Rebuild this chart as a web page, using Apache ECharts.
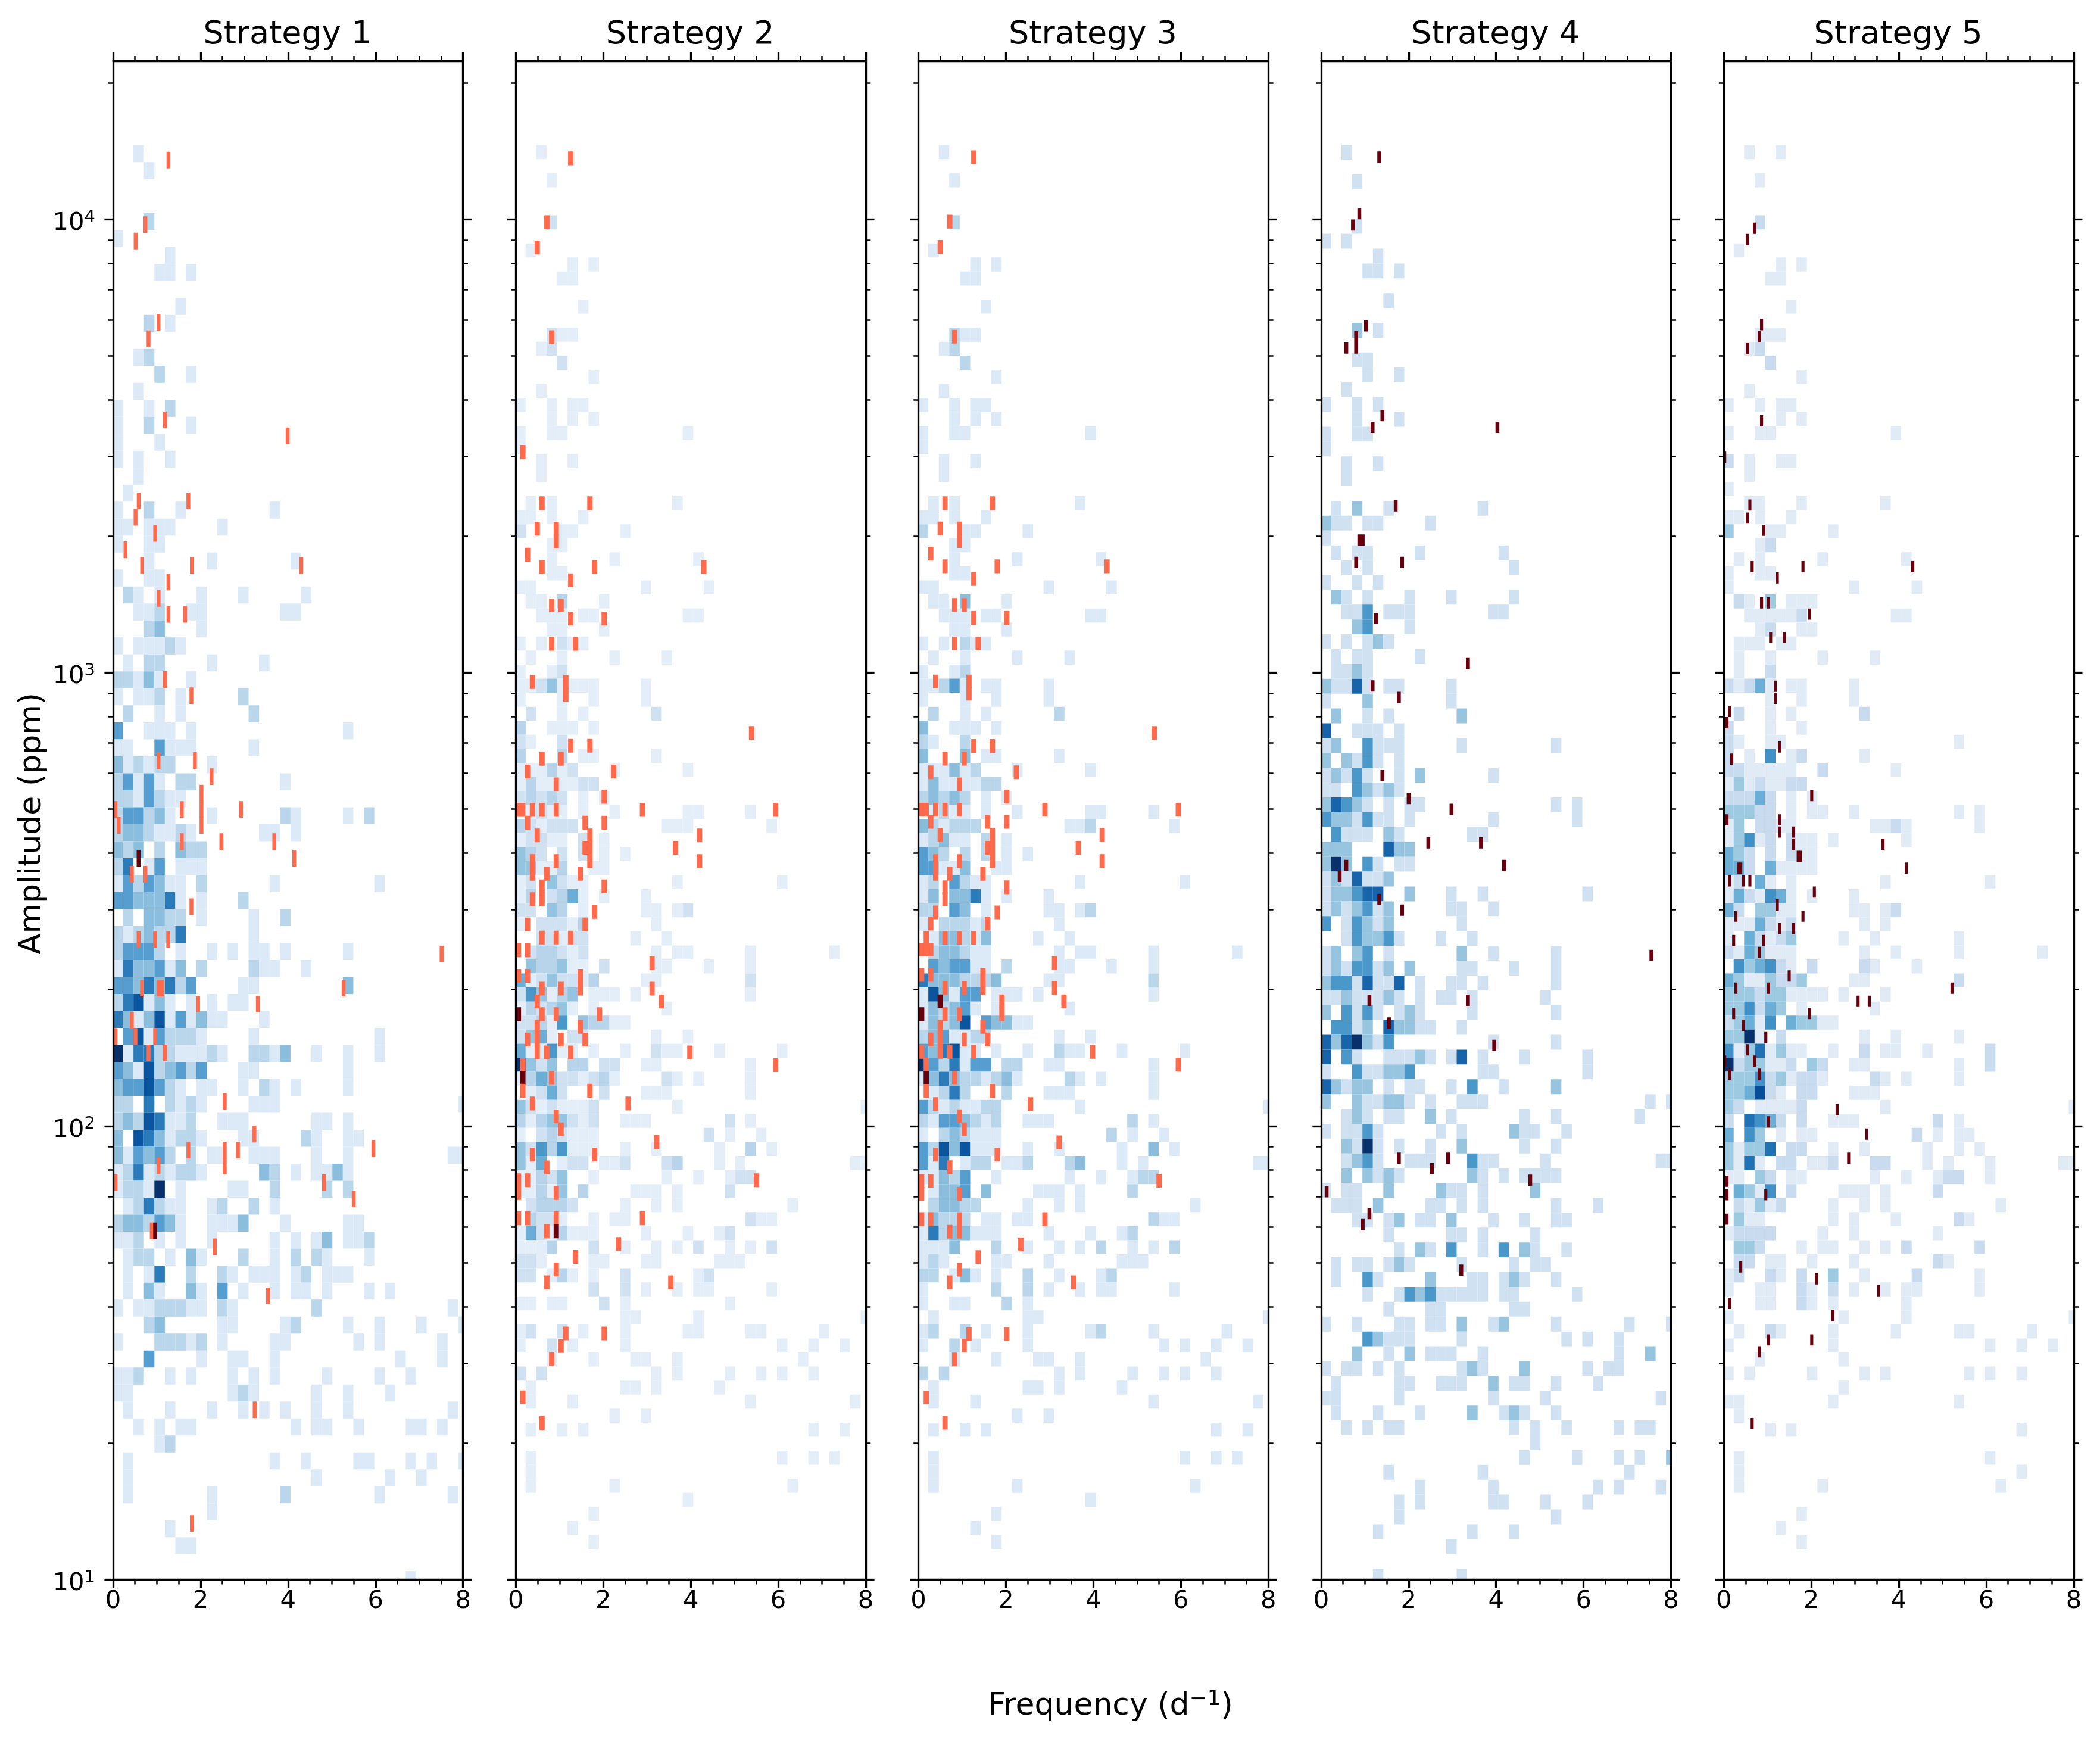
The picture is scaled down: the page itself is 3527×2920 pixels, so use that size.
<!DOCTYPE html>
<html><head><meta charset="utf-8">
<style>html,body{margin:0;padding:0;background:#fff}#c{width:3527px;height:2920px}</style>
<script src="https://cdn.jsdelivr.net/npm/echarts@6/dist/echarts.min.js"></script>
</head><body><div id="c"></div>
<script>
// Panel titles and axis text
const panelTitles = ["Strategy 1","Strategy 2","Strategy 3","Strategy 4","Strategy 5"];
const xTitleParts = ["Frequency (d","\u22121",")"];
const yTitle = "Amplitude (ppm)";
const xRange = [0, 8];
const yRange = [10, 22336];
const yMajor = [10,100,1000,10000];
const yMinor = [20,30,40,50,60,70,80,90,200,300,400,500,600,700,800,900,2000,3000,4000,5000,6000,7000,8000,9000,20000];

// 2D histogram bins: frequency bins, log10(amplitude) bins (row 0 is the top one)
const freqStart = -0.0144, freqStep = 0.2394;
const logTop  = [4.1634,4.1633,4.1633,4.1640,4.1633];
const logStep = [0.03744,0.03096,0.03096,0.03271,0.03096];

// Colour of each count level in each panel
const blues = [
 ['#fff','#dce9f6','#bad6ea','#8bbedc','#559ecf','#2b7bba','#0b559f','#08306b'],
 ['#fff','#e3eef8','#d0e1f2','#b7d4ea','#94c4df','#6aaed6','#4a98c9','#2474b7','#08306b'],
 ['#fff','#dce9f6','#bad6ea','#8bbedc','#559ecf','#2b7bba','#0b559f','#08306b'],
 ['#fff','#d0e1f2','#97c4df','#4a97c9','#1764ab','#08306b'],
 ['#fff','#e1ebf6','#c8dbef','#9dcae1','#6baed6','#4191c6','#2171b5','#084d97','#08306b']
];
const reds = [['#ff6a4d','#67000d'],['#ff6a4d','#67000d'],['#ff6a4d','#67000d'],['#67000d','#67000d'],['#67000d','#67000d']];
// Width (d^-1) and height (in rows) of the narrow strategy bins
const tickW = [0.088,0.12,0.12,0.088,0.07];
const tickH = [0.98,0.98,0.98,0.76,0.8];

// Background counts: [row, "column:level column:level ..."]
const heat1 = [
[0,"2:1"],[1,"3:1"],[4,"3:2"],[5,"0:1"],[6,"5:1"],[7,"4:1 5:1 7:1"],[9,"6:1"],[10,"3:2 5:1"],
[12,"2:1 3:2"],[13,"4:2 7:1"],[14,"2:1"],[15,"0:1 3:1 5:2"],[16,"0:1 3:2 7:1"],[17,"0:1 4:1"],[18,"0:1 2:1 5:1"],[19,"2:1"],[20,"1:1"],
[21,"0:1 3:2 6:1 15:1"],[22,"0:1 1:1 3:1 4:1 5:1 10:1"],[23,"0:1 3:1 4:1"],[24,"3:1 9:1 17:1"],[25,"0:1 3:1 4:1"],
[26,"1:2 2:1 4:1 8:1 12:1 18:1"],[27,"2:1 3:1 4:2 7:1 8:1 16:1 17:1"],[28,"3:2 4:3 8:1"],[29,"0:1 2:1 3:1 4:1 5:2 6:1"],
[30,"1:1 3:2 4:2 9:1 14:1"],[31,"0:2 1:2 2:1 3:3 4:1 7:1"],[32,"0:1 2:1 3:1 4:2 6:1 12:2"],[33,"1:2 4:1 6:1 13:2"],
[34,"0:4 3:1 4:1 5:1 7:1 22:1"],[35,"0:1 1:1 4:4 5:1 6:1 7:1 13:1"],[36,"0:3 1:1 2:2 3:1 4:2 5:2 9:1"],[37,"0:2 1:4 2:1 3:4 4:1 6:2 7:2 16:1"],
[38,"0:2 1:2 2:1 3:4 4:2 5:1 6:1"],[39,"0:2 1:4 2:4 3:2 4:3 5:1 9:1 16:2 17:1 22:1 24:2"],[40,"0:2 1:3 2:3 3:2 4:1 5:1 6:2 7:1 14:1 15:1 17:1"],
[41,"0:3 1:2 2:3 4:2 6:3 7:2 8:2"],[42,"0:2 1:5 3:1 4:4 6:1 7:1 8:1"],[43,"0:1 1:4 2:2 3:4 4:3 5:1 6:1 8:2 15:1 25:1"],
[44,"0:4 1:4 2:3 3:3 4:3 5:5 6:1 8:1 12:2"],[45,"1:2 3:3 4:3 5:2 6:2 8:1 13:1 16:2"],[46,"0:2 1:1 2:2 3:3 4:2 5:2 6:5 13:1"],
[47,"0:2 1:4 2:4 3:4 4:2 6:1 9:1 11:1 13:1 14:1 16:1 22:1"],[48,"0:1 1:5 2:3 3:3 4:4 5:1 6:3 8:2 13:2 14:1 15:1 18:1"],
[49,"0:4 1:4 2:3 3:5 4:3 5:5 6:2 7:4 12:1 13:1 22:3"],[50,"0:2 1:5 2:6 3:1 4:3 5:1 7:1 9:1 11:1 12:1"],
[51,"0:5 1:3 2:1 3:3 4:6 5:1 6:4 7:1 8:3 9:1 10:1 14:1"],[52,"1:4 2:6 3:1 4:4 5:2 6:2 7:2 8:1 13:1 25:1"],
[53,"0:7 1:1 2:5 3:5 4:2 5:2 6:1 7:1 8:1 9:2 10:1 13:2 14:2 15:1 16:3 19:1 22:1 25:1"],[54,"0:4 1:3 2:1 3:6 4:2 5:3 6:4 7:2 8:4 12:1 13:1 22:1"],
[55,"0:3 1:4 2:4 3:6 4:4 5:2 6:1 8:1 9:1 12:1 14:2 15:1 17:1 22:1"],[56,"0:2 1:2 3:5 5:2 6:1 7:2 8:1 13:1 14:1 15:1 33:1"],
[57,"0:2 1:3 2:2 3:6 4:5 5:1 6:1 7:2 10:1 11:1 12:1 19:1 20:1 22:1"],[58,"0:3 2:6 3:5 4:3 5:1 6:2 7:2 8:1 12:1 13:1 18:2 19:1 22:1 23:1"],
[59,"0:3 1:1 2:4 3:3 4:4 5:2 7:2 9:1 10:1 13:1 14:1 15:1 19:1 22:1 32:1 33:1"],[60,"0:1 1:2 2:5 3:1 4:2 5:1 6:2 7:2 8:1 14:3 15:2 17:1 19:1 20:1 21:3 22:1"],
[61,"0:1 1:2 2:2 3:1 4:7 6:1 11:1 12:1 15:2 20:2 22:2"],[62,"1:1 2:2 3:5 4:2 5:1 6:1 9:1 10:2 13:2 15:1"],
[63,"0:2 1:3 2:3 3:2 4:4 5:3 6:1 9:1 10:1 11:1 12:3 16:1 22:1 23:1"],[64,"0:1 1:1 2:2 4:1 6:1 9:1 15:1 17:1 19:1 20:3 22:1 23:1 24:2"],
[65,"1:1 2:2 3:2 5:1 7:3 8:1 12:2 15:1 17:2 19:2 20:1 24:1"],[66,"1:1 3:1 4:5 7:2 10:2 11:1 13:1 14:1 15:1 17:1 18:2 20:1 21:1 22:1"],
[67,"1:1 3:3 4:1 7:3 8:1 10:4 12:1 15:1 17:1 18:1 20:1 24:1 26:1"],[68,"0:1 2:1 3:1 4:2 5:2 6:2 7:1 8:1 10:2 11:1 19:2 32:1"],
[69,"3:2 4:3 10:1 11:1 16:1 17:2 22:1 25:1 29:1 33:1"],[70,"0:1 4:2 5:2 6:2 7:1 8:2 10:1 15:1 16:1 23:1 25:1 31:1"],
[71,"3:4 8:1 11:1 12:1 15:1 27:1 31:1"],[72,"0:1 1:1 2:2 5:1 7:1 11:1 13:1 15:1 20:1 25:1 28:1"],[73,"0:1 1:1 11:1 12:2 13:1 19:1 22:1 26:1"],
[74,"1:1 5:1 9:1 12:1 14:1 16:1 19:1 22:1 32:1"],[75,"2:1 4:1 6:1 7:1 17:1 19:1 20:1 23:1 28:1 29:1 31:1"],[76,"4:1 5:2"],
[77,"1:1 15:1 18:1 23:1 24:1 28:1 30:1 33:1"],[78,"1:1 19:1 26:1 29:1"],[79,"1:1 9:1 16:2 25:1 32:1"],[80,"9:1"],[81,"5:1"],[82,"6:1 7:1"],[84,"28:1"]
];
const heat2 = [
[0,"2:1"],[2,"3:1"],[5,"3:2"],[7,"1:1"],[8,"5:1 7:1"],[9,"4:1 5:1"],[11,"6:1"],[13,"3:2 4:1 5:1"],[14,"2:1 3:2"],[15,"4:2"],[16,"7:1"],[17,"2:1"],
[18,"0:1 3:1 5:1 6:1"],[19,"3:1 5:1 7:1"],[20,"0:1 3:1 4:1 16:1"],[21,"0:1"],[22,"2:1 5:1"],[23,"2:1"],[25,"1:1 3:1 15:1"],[26,"0:1 1:1 3:1 6:1"],
[27,"0:2 4:1 5:1 10:1"],[28,"3:1 4:1"],[29,"3:1 9:1 17:1"],[30,"3:1 4:1"],[31,"0:1 1:1 12:1 18:1"],[32,"1:1 2:1 4:3 8:1"],[33,"2:1 3:1 4:1 6:1 7:1 16:1 17:1"],
[34,"3:1 4:1 8:1"],[35,"0:1 2:1 4:2 5:1 6:1"],[36,"1:1 4:1 9:1 14:1"],[37,"0:1 3:1 4:2"],[38,"0:1 1:1 2:2 3:4 4:1 5:1 6:1 7:1 12:1"],[39,"0:1 4:1 7:1 12:1"],
[40,"1:2 4:1 6:1 13:2"],[41,"0:3 3:1 4:1 5:1 7:1"],[42,"0:2 1:1 4:2"],[43,"0:3 4:3 6:1 7:1 13:1"],[44,"0:1 1:1 2:1 3:3 4:1 5:2 9:1 16:1"],
[45,"0:1 1:3 2:1 3:1 4:1 5:1 6:2 7:2"],[46,"0:2 1:3 2:2 3:3 4:2 6:1 8:1"],[47,"1:1 2:2 3:1 4:1 6:1 9:1 16:1 17:1 22:1"],
[48,"0:3 1:2 2:1 3:2 4:2 5:2 14:1 15:1 16:1 24:1"],[49,"0:1 1:2 2:2 3:1 4:1 6:2 8:1"],[50,"0:4 1:3 2:2 4:2 6:2 8:1 10:1"],[51,"0:4 1:4 2:1 3:1 4:3 7:1 8:1"],
[52,"0:1 1:2 3:4 4:2 5:1 6:1 15:1 25:1"],[53,"0:1 1:3 3:2 4:3 5:5 6:1 8:1 12:1"],[54,"0:2 1:2 3:4 4:3 6:1 12:1 13:1 15:1 16:2"],[55,"0:1 2:2 3:2 4:2 5:1 6:3 13:1"],
[56,"2:2 3:2 4:1 5:2 6:2 11:1 14:1"],[57,"1:2 2:3 3:3 4:2 5:1 6:2 13:1 15:1 16:1 22:1 30:1"],[58,"1:4 2:3 3:3 4:4 5:1 6:1 8:2 13:1 14:1 18:1 22:1"],
[59,"0:5 1:1 2:2 3:4 4:2 5:2 6:1 7:3 12:1 13:1 22:2"],[60,"0:2 1:6 2:4 3:1 4:3 5:4 7:1 8:1 9:1 11:1 22:1"],[61,"0:1 1:3 2:2 3:3 4:4 5:1 7:1 14:1"],
[62,"0:2 1:2 2:3 3:1 4:6 6:4 7:3 8:3 9:1 10:1"],[63,"0:2 1:4 2:5 3:1 5:2 6:2 13:1 16:1"],[64,"0:5 1:1 2:1 3:6 4:1 5:1 7:1 10:1 13:2 14:1 15:1 19:1 25:1"],
[65,"0:8 1:4 2:2 3:4 5:3 6:3 8:2 9:2 12:1 13:1 22:1"],[66,"0:1 1:3 2:5 3:4 4:2 5:2 6:1 7:2 8:3 9:1 14:2 15:1 17:1 22:1"],[67,"1:1 2:2 3:5 4:2 8:2 12:1 13:1 14:1 22:1"],
[68,"0:4 1:2 2:1 3:2 4:1 5:1 6:1 7:2 15:1 33:1"],[69,"0:3 1:1 2:3 3:4 4:4 5:2 6:1 7:2 10:1 11:1 12:1 20:2 22:1"],[70,"0:1 2:2 3:3 4:2 5:1 6:1 7:1 18:2 20:1 23:1"],
[71,"0:4 1:2 2:6 3:3 4:6 5:1 6:1 7:1 10:1 13:1 19:1 22:3 24:1"],[72,"0:4 1:1 2:5 4:1 5:2 6:2 8:1 9:1 10:2 14:2 15:3 19:1 21:1 32:1 33:1"],
[73,"0:1 1:1 2:3 3:2 4:4 7:1 14:1 17:1 20:1 21:2 22:2"],[74,"0:1 1:1 2:3 3:1 4:4 6:3 11:1 12:1 13:1 15:1 20:2"],[75,"1:2 2:3 3:3 4:3 5:2 10:1 13:1 15:1 26:1"],
[76,"1:3 2:2 3:2 4:1 7:1 9:1 10:1 22:2 23:1 24:1"],[77,"0:1 1:5 2:2 3:1 4:3 5:1 6:1 7:1 12:1 16:1 19:1 20:2"],[78,"0:1 1:1 2:1 3:3 7:2 10:1 13:1 15:1 17:2 20:1 22:1 24:2"],
[79,"0:2 1:2 2:1 7:1 8:1 12:1 13:1 19:1 20:1 21:1"],[80,"0:2 1:2 3:1 4:3 5:1 7:1 10:2 17:1 18:2"],[81,"7:2 10:2 12:1 15:1 17:1 18:1 24:1"],[82,"0:1 1:1 3:1 4:1 8:2 10:1 20:1"],
[83,"10:1 11:1 17:1 33:1"],[84,"0:1 1:2 4:2 6:1 10:1 16:1 17:1 22:1 23:1 29:1"],[85,"0:1 3:2 5:1 10:1 25:1 28:1 31:1"],[86,"3:1 7:1 11:1 12:1 15:1 27:1"],
[87,"0:2 2:2 13:1 15:1 20:1 23:1 25:1 28:1"],[88,"1:1 10:1 11:1 13:1 19:1"],[89,"1:1 5:1 22:1 32:1"],[90,"9:1 12:1"],[91,"1:1 4:1 6:1 28:1 31:1"],
[93,"1:1 25:1 28:1 30:1"],[94,"1:1"],[95,"1:1 9:1 26:1"],[96,"16:1"],[97,"7:1"],[98,"5:1"],[99,"7:1"]
];
const heat3 = [
[0,"2:1"],[2,"3:1"],[5,"3:2"],[7,"1:1"],[8,"5:1 7:1"],[9,"4:1 5:1"],[11,"6:1"],[13,"3:2 4:1 5:1"],[14,"2:1 3:2"],[15,"4:2"],[16,"7:1"],[17,"2:1"],
[18,"0:1 3:1 5:1 6:1"],[19,"3:1 5:1 7:1"],[20,"0:1 3:1 4:1 16:1"],[21,"0:1"],[22,"2:1 5:1"],[23,"2:1"],[25,"1:1 3:1 15:1"],[26,"0:1 1:1 3:1 6:1"],
[27,"0:2 4:1 5:1 10:1"],[28,"3:1 4:1"],[29,"3:1 9:1 17:1"],[30,"3:1 4:1"],[31,"0:1 1:1 12:1 18:1"],[32,"1:1 2:1 4:3 8:1"],[33,"2:1 3:1 4:1 6:1 7:1 16:1 17:1"],
[34,"3:1 4:1 8:1"],[35,"0:1 2:1 4:2 5:1 6:1"],[36,"1:1 4:1 9:1 14:1"],[37,"0:1 3:1 4:2"],[38,"0:1 1:1 2:2 3:4 4:1 6:1 7:1 12:1"],[39,"0:1 4:1 7:1 12:1"],
[40,"1:2 4:1 6:1 13:2"],[41,"0:3 3:1 4:1 5:1 7:1"],[42,"0:2 1:1 4:2"],[43,"0:3 4:3 6:1 7:1 13:1"],[44,"0:1 1:1 2:1 3:3 4:1 5:2 9:1 16:1"],
[45,"0:1 1:3 2:1 3:1 4:1 5:1 6:2 7:2"],[46,"0:2 1:3 2:2 3:3 4:2 6:1 8:1"],[47,"1:1 2:2 3:1 4:1 6:1 9:1 16:1 17:1 22:1"],
[48,"0:3 1:2 2:1 3:2 4:2 5:2 14:1 15:1 16:2 24:1"],[49,"0:1 1:2 2:3 3:1 4:1 6:2 8:1"],[50,"0:4 1:3 2:2 4:2 6:2 8:1 10:1"],[51,"0:4 1:4 2:1 3:1 4:3 7:1 8:1"],
[52,"0:1 1:2 3:4 4:2 5:1 6:1 15:1 25:1"],[53,"0:1 1:3 3:3 4:3 5:5 6:1 8:1 12:1"],[54,"0:2 1:2 3:4 4:3 6:1 12:1 13:1 15:1 16:2"],[55,"0:1 2:2 3:2 4:2 5:1 6:2 13:1"],
[56,"1:1 2:3 3:3 4:2 5:1 6:3 11:1 14:1"],[57,"1:2 2:3 3:3 4:2 5:1 6:1 13:1 15:1 16:1 22:1 30:1"],[58,"1:4 2:3 3:4 4:4 5:1 6:1 8:2 13:1 14:1 18:1 22:1"],
[59,"0:5 1:3 2:3 3:3 4:2 5:2 6:2 7:3 12:1 13:1 22:2"],[60,"0:1 1:6 2:3 3:1 4:4 5:4 7:1 8:1 9:1 11:1 22:1"],[61,"0:1 1:3 2:2 3:3 4:4 5:1 7:1 14:1"],
[62,"0:1 1:3 2:2 3:3 4:6 6:4 7:3 8:3 9:1 10:1"],[63,"0:2 1:3 2:4 3:1 4:1 5:2 6:2 13:1 16:1"],[64,"0:4 1:3 2:5 3:6 4:1 5:1 7:1 10:1 13:2 14:1 15:1 19:1 25:1"],
[65,"0:7 1:4 2:2 3:5 4:1 5:4 6:4 8:2 9:2 12:1 13:1 22:1"],[66,"0:1 1:3 2:5 3:3 4:2 5:2 6:1 7:2 8:3 9:1 14:2 15:1 17:1 22:1"],[67,"1:1 2:2 3:5 4:2 8:2 12:1 13:1 14:1 22:1"],
[68,"0:4 1:2 2:1 3:2 4:1 5:1 6:2 7:2 15:1 33:1"],[69,"0:2 1:1 2:4 3:4 4:3 5:2 6:1 7:2 10:1 11:1 12:1 20:2 22:1"],[70,"0:1 2:2 3:3 4:2 5:1 6:1 7:1 18:2 20:1 23:1"],
[71,"0:4 1:2 2:6 3:3 4:6 5:1 6:1 7:1 10:1 13:1 19:1 22:3 24:1"],[72,"0:4 1:1 2:5 4:1 5:2 6:2 8:1 9:1 10:2 14:2 15:3 19:1 21:1 32:1 33:1"],
[73,"0:1 1:1 2:3 3:2 4:4 7:1 14:1 17:1 20:1 21:2 22:2"],[74,"1:1 2:3 3:3 4:4 6:3 11:1 12:1 13:1 15:1 20:2"],[75,"1:2 2:3 3:3 4:2 5:2 10:1 13:1 15:1 26:1"],
[76,"0:1 1:3 2:2 3:2 4:2 6:1 7:1 9:1 10:1 22:2 23:1 24:1"],[77,"0:1 1:5 2:2 3:3 4:3 5:1 6:1 7:1 12:1 16:1 19:1 20:2"],[78,"0:1 1:1 2:1 3:3 7:2 10:1 13:1 15:1 17:2 20:1 22:1 24:2"],
[79,"0:1 1:2 2:1 7:1 8:1 12:1 19:1 20:1 21:1"],[80,"0:2 1:2 3:1 4:3 5:1 7:1 10:2 13:1 17:1 18:2"],[81,"0:1 7:2 10:2 12:1 15:1 17:1 18:1 24:1"],[82,"0:1 3:1 4:1 8:2 10:1"],
[83,"1:1 10:1 11:1 33:1"],[84,"0:1 1:2 4:2 6:1 10:1 16:1 17:2 22:1 29:1"],[85,"0:1 3:2 5:1 10:1 23:1 25:1 28:1 31:1"],[86,"3:1 7:1 11:1 12:1 15:1 27:1"],
[87,"0:2 2:2 13:1 15:1 20:1 23:1 25:1 28:1"],[88,"1:1 10:1 11:1 13:1 19:1"],[89,"1:1 5:1 22:1 32:1"],[90,"9:1 12:1"],[91,"1:1 4:1 6:1 28:1 31:1"],
[93,"1:1 25:1 28:1 30:1"],[94,"1:1"],[95,"1:1 9:1 26:1"],[96,"16:1"],[97,"7:1"],[98,"5:1"],[99,"7:1"]
];
const heat4 = [
[0,"2:1"],[2,"3:1"],[5,"3:1"],[6,"0:1 2:1"],[7,"5:1"],[8,"4:1 5:1 7:1"],[10,"6:1"],[12,"3:2 5:1"],[14,"3:1 4:1"],[15,"4:1 7:1"],[16,"2:1"],[17,"0:1 3:1 5:1"],
[18,"3:1 7:1"],[19,"0:1 3:1 4:1"],[20,"0:1"],[21,"2:1 5:1"],[22,"2:1"],[24,"1:1 3:2 6:1 15:1"],[25,"0:2 1:1 2:1 4:1 5:1 10:1"],[26,"0:1"],[27,"1:1 3:1 4:1 9:1 17:1"],
[28,"2:1 4:1 18:1"],[29,"0:1 3:1 5:1"],[30,"1:2 2:1 4:1 8:1 12:1 18:1"],[31,"2:1 3:1 4:3 6:1 7:1 8:1 16:1 17:1"],[32,"3:2 4:3 8:1"],[33,"0:1 2:1 4:1 5:2 6:1"],
[34,"1:1 3:1 4:1 9:1"],[35,"1:1 2:1 3:2 4:1"],[36,"0:2 1:1 2:1 3:4 4:1 6:1 7:1 12:1"],[37,"0:1 4:2 12:1"],[38,"1:2 4:1 6:1 13:2"],[39,"0:4 3:1 4:1 5:1 7:1"],
[40,"0:1 1:2 4:3 5:1 6:1 7:1 13:1 22:1"],[41,"0:2 2:2 3:1 4:3 5:1 7:1"],[42,"0:1 1:2 2:1 3:3 4:1 7:1 9:2 16:1"],[43,"0:1 1:1 3:3 4:2 5:1 6:2 7:1"],
[44,"0:2 1:4 2:3 3:2 4:1 6:1 8:1 9:1 22:1 24:1"],[45,"0:3 1:2 2:2 3:1 4:3 5:1 6:1 8:1 16:1 24:1"],[46,"1:3 2:1 3:1 4:1 6:2 7:1 14:1 15:1"],
[47,"0:2 1:2 2:2 6:4 7:2 8:2"],[48,"0:2 1:5 2:2 4:3 5:1 7:1 8:1"],[49,"0:1 1:2 2:1 3:4 4:1 5:1 6:2"],[50,"0:1 1:2 2:2 3:3 4:4 5:4 8:2 12:1 15:1 25:1"],
[51,"0:1 1:2 2:1 3:2 4:3 5:1 6:2 12:1 13:1 16:1"],[52,"0:3 2:1 3:3 4:2 5:1 6:2 13:1"],[53,"2:1 3:3 4:2 5:2 6:3 7:1 11:1 14:1"],[54,"0:1 1:2 3:2 4:3 6:1 13:2 16:1 22:1"],
[55,"0:1 1:2 2:1 3:3 4:3 5:1 6:2 8:2 13:1 14:1 18:1 22:1"],[56,"0:2 1:3 2:3 3:1 4:4 5:1 6:1 7:4 9:1 12:1 13:1 15:1 22:1"],[57,"0:1 1:1 2:2 3:1 4:1 5:1 6:2 7:1 9:1 11:1 12:1 14:1 21:1"],
[58,"0:2 2:3 3:1 4:3 5:1 7:1 8:2 9:1 14:1 22:1"],[59,"1:3 2:3 3:1 4:2 6:4 7:2 8:2 9:1 10:1 13:1"],[60,"0:4 1:2 2:4 3:5 4:2 5:1 6:3 16:1 22:1"],
[61,"0:4 2:3 3:1 6:1 7:1 8:1 9:2 10:1 12:1 13:4 15:1 19:1 25:1"],[62,"0:1 3:3 4:1 5:1 6:2 7:2 8:3 15:1 16:1 25:1"],[63,"0:4 1:2 2:1 3:2 4:2 6:1 8:1 9:1 12:1 14:3 17:1 22:2"],
[64,"0:2 3:2 4:1 5:1 6:2 7:2 8:1 10:1 13:1 14:1 15:1 31:1 33:1"],[65,"2:1 3:2 4:1 6:1 7:1 10:2 12:1 19:1 22:1 30:1"],[66,"0:1 2:1 3:1 4:3 5:1 11:1 13:1 18:2 19:1 20:1 23:1"],
[67,"2:2 3:1 4:5 5:1 7:1 10:1 13:2 19:1 22:1"],[68,"2:1 3:2 4:3 5:1 8:1 9:1 10:1 14:3 15:1 16:1 21:1 32:1 33:1"],[69,"2:2 4:2 5:1 6:2 7:1 14:2 15:1 17:1 19:1 20:1 21:1 22:1"],
[70,"0:1 2:1 3:1 6:2 11:2 12:1 13:1 15:1 20:2"],[71,"1:1 2:1 3:1 5:2 10:1 11:1 13:1 15:1 22:1 26:1"],[72,"3:1 4:1 6:1 7:2 9:1 10:1 12:2 16:1 19:1 22:1 23:1"],
[73,"6:1 12:1 13:1 15:1 20:1"],[74,"7:1 9:2 10:1 12:3 15:1 17:3 19:2 20:1 23:1"],[75,"1:1 3:1 4:1 6:1 7:2 8:1 13:1 18:1 20:1 21:1"],[76,"1:1 4:3 5:1 10:2 14:1 15:1 17:1 18:2 19:1 22:1"],
[77,"4:1 7:1 8:3 9:2 10:3 11:1 12:1 13:1 14:1 15:1 17:1 18:1 24:1"],[78,"6:1 10:1 11:1 18:1 19:1"],[79,"0:1 3:1 7:1 8:1 10:1 11:1 13:2 16:1 17:2 22:1 29:1 33:1"],
[80,"4:3 5:2 6:1 7:1 8:1 13:1 23:1 25:1 28:1"],[81,"3:2 6:1 8:2 10:1 11:1 12:1 15:1 28:1 31:2"],[82,"0:1 2:1 3:1 5:1 7:1 13:1 14:2 15:1 19:2 25:1 27:1 28:1"],
[83,"1:1 7:1 8:1 11:1 12:1 13:1 16:2 18:1 19:1 22:1 26:1"],[84,"0:1 1:1 7:1 16:1 21:1 32:1"],[85,"1:1 5:1 9:1 14:2 17:1 18:2 19:1 22:1"],[86,"2:1 4:1 6:1 7:1 18:1 20:1 23:1 28:1 30:1 31:1"],
[87,"20:1"],[88,"19:1 24:1 28:1 30:1 33:2"],[89,"6:1 15:1 29:1"],[90,"9:1 16:1 26:1 28:1 32:1"],[91,"7:1 9:1 16:1 17:1 21:1 25:1"],[92,"7:1 22:1"],[93,"5:1 14:1 18:1"],[94,"12:1"],[96,"5:1 13:1"]
];
const heat5 = [
[0,"2:1 5:1"],[2,"3:1"],[5,"3:2"],[7,"1:1"],[8,"5:1 7:1"],[9,"4:1 5:1"],[11,"6:1"],[13,"3:1 4:1 5:1"],[14,"2:1 3:2"],[15,"4:2"],[16,"7:1"],[17,"2:1"],
[18,"0:1 3:1 5:1 6:1"],[19,"5:1 7:1"],[20,"0:1 3:1 4:1 16:1"],[22,"0:2 2:1 5:1 6:1"],[23,"2:1"],[24,"0:1"],[25,"2:1 3:1 7:1 15:1"],[26,"0:1 1:1 3:1 6:1"],
[27,"0:3 4:1 5:1 10:1"],[28,"3:1 4:2"],[29,"1:1 3:1 9:1 17:1"],[30,"0:1 3:1 4:1"],[31,"0:1 12:1 18:1"],[32,"1:2 2:1 4:3 6:1 7:1 8:1"],[33,"2:1 3:1 4:1 5:1 6:1 7:2 16:1 17:1"],
[34,"3:1 4:2 7:1 8:1"],[35,"1:1 2:1 3:1 5:1 6:1"],[36,"1:1 4:1 9:1 14:1"],[37,"1:1 4:2"],[38,"0:2 1:1 2:2 3:4 4:1 6:1 7:1 12:1"],[39,"4:1 7:1 12:1"],
[40,"1:2 4:1 6:1 13:2"],[41,"0:2 4:1 7:1"],[42,"0:2 1:1 4:1 5:1 22:1"],[43,"0:2 2:1 4:5 6:1 7:2 13:1"],[44,"0:2 1:2 2:1 3:1 4:1 5:1 6:1 9:2 16:1"],
[45,"0:1 1:3 2:1 3:2 4:1 5:1 6:2 7:2"],[46,"0:2 1:2 2:2 3:4 4:2 6:1 8:1"],[47,"0:3 1:3 2:3 3:2 4:2 6:1 8:1 9:1 12:1 22:1 24:1"],
[48,"0:1 1:3 3:2 4:2 5:1 6:1 14:1 15:1 16:2 17:1 24:1"],[49,"0:1 1:3 2:5 3:1 4:2 6:2 7:1 8:1 10:1 17:1"],[50,"0:4 1:3 2:2 4:2 6:2 7:1 8:1"],[51,"0:4 1:4 2:2 4:4 5:1 6:1 7:1 8:1"],
[52,"0:1 1:2 3:4 4:1 6:1 15:1 25:1"],[53,"0:1 1:4 2:2 3:1 4:5 5:4 6:1 8:1 12:1"],[54,"0:4 1:2 3:3 4:3 5:1 6:1 12:1 13:1 15:1 16:2"],[55,"0:1 1:1 2:1 3:4 4:2 5:1 6:2 13:1 15:1"],
[56,"0:1 2:4 3:2 4:1 5:2 6:3 11:1 14:1 22:1"],[57,"0:2 1:1 2:4 3:3 4:1 5:1 6:1 13:1 16:1 22:1 30:1"],[58,"1:5 2:3 3:4 4:5 5:2 6:1 8:2 13:2 14:1 18:1"],
[59,"0:4 1:3 2:1 3:1 4:3 5:2 6:2 7:3 12:1 13:1 22:2"],[60,"0:3 1:3 2:3 3:2 4:3 5:3 6:1 7:1 8:1 9:1 11:1 15:1"],[61,"0:3 1:3 2:5 3:2 4:4 5:3 7:1 14:1"],
[62,"0:2 1:3 2:4 3:1 4:5 6:4 7:3 8:3 9:1 10:1"],[63,"0:3 1:3 2:8 3:1 5:2 13:1 16:1 22:1"],[64,"0:5 1:1 2:3 3:6 4:1 5:3 6:1 7:1 10:1 13:2 15:1 16:1 19:1 25:2"],
[65,"0:8 1:2 2:3 3:3 4:1 5:1 6:2 8:3 9:2 12:1 13:1 22:1 25:2"],[66,"0:3 1:3 2:3 3:5 4:2 5:3 6:1 7:2 8:2 9:1 14:2 15:1 17:1 22:1"],[67,"0:3 1:3 2:4 3:7 4:2 5:1 7:2 8:2 12:1 13:1 14:1"],
[68,"0:3 1:2 3:1 4:1 5:1 6:1 7:2 15:1 33:1"],[69,"0:2 2:6 3:5 4:4 5:2 7:2 10:1 11:1 12:1 20:2 22:1"],[70,"0:4 2:5 3:3 5:1 7:1 8:1 18:2 20:1 22:1 23:1"],
[71,"0:3 1:1 2:3 3:3 4:6 6:2 7:2 10:1 13:1 19:1 22:1 24:1"],[72,"0:3 1:1 2:6 3:1 5:2 6:2 8:1 9:1 10:2 14:2 15:2 19:1 21:1 25:1 32:1 33:1"],
[73,"0:1 1:1 3:3 4:2 6:1 7:1 14:1 17:1 20:1 21:2 22:2 25:1"],[74,"1:4 2:3 3:1 4:5 6:2 11:1 12:1 13:1 15:1 20:2"],[75,"1:2 2:1 3:3 4:1 5:2 10:1 13:1 15:1 26:1"],
[76,"1:3 2:1 3:1 10:1 12:1 16:1 22:2 23:1"],[77,"0:1 1:2 2:2 3:2 4:2 9:1 12:1 20:1"],[78,"1:3 2:3 3:2 7:1 9:1 10:1 13:1 15:1 17:2 24:2"],[79,"1:2 2:2 4:1 5:1 8:1 12:1 20:2 21:1"],
[80,"0:1 1:2 4:2 5:1 7:2 10:3 13:1 18:2 24:1"],[81,"0:1 3:1 4:1 7:2 8:1 10:2 12:1 15:1 17:1 18:1 24:1"],[82,"3:1 4:1 7:2 8:1 10:1 17:1"],[83,"0:1 11:1 17:1 33:1"],
[84,"1:1 4:2 5:1 10:1 16:1 22:1 23:1 29:1"],[85,"0:1 10:1 25:1 28:1 31:1"],[86,"3:1 11:1"],[87,"0:1 2:1 8:1 13:1 15:1 23:1 25:1 28:1"],[88,"11:1"],[89,"0:1 1:1 10:1 22:1"],[90,"1:1"],
[91,"4:1 6:1 28:1"],[93,"1:1 25:1"],[94,"1:1 28:1"],[95,"1:1 9:1 26:1"],[97,"7:1"],[98,"5:1"],[99,"7:1"]
];

// Strategy bins: [frequency, position on the panel's amplitude rows, optional 2 = double count]
const ticks1 = [[1.265,.88],[.737,4.69],[.514,5.65],[1.037,10.43],[.81,11.4],[1.187,16.18],[3.99,17.12],[.585,20.95],[1.72,20.95],[.512,21.92],[.962,22.87],[.282,23.83],[.664,24.77],[1.8,24.77],[4.3,24.77],[1.265,25.73],[1.04,26.7],[1.265,27.64],[1.647,27.64],
[1.187,31.48],[1.79,32.43],[1.037,36.25],[1.87,36.25],[2.25,37.2],[2.02,38.17],[2.02,39.13],[2.02,40.07],[.055,39.13],[1.57,39.13],[2.925,39.13],[.127,40.07],[1.57,41.03],[2.475,41.03],[3.685,41.03],[.582,42,2],[4.14,42],[.428,42.95],[.737,42.95],[1.79,44.86],[.582,46.78],[.96,46.78],[1.26,46.78],
[7.51,47.65],[.66,49.65],[1.037,49.65],[1.115,49.65],[5.27,49.65],[1.943,50.6],[3.31,50.6],[.428,51.55],[.055,52.5],[.51,52.5],[.96,52.5],[.81,53.47],[1.187,53.47],[2.552,56.33],[3.23,58.25],[1.72,59.19],[2.552,59.19],[2.853,59.19],[5.95,59.1],[1.037,60.13],[2.552,60.13],[.055,61.12],[4.82,61.12],[5.5,62.07],[.883,63.95],[.96,63.95,2],[2.325,64.89],[3.54,67.78],[3.236,74.49],[1.8,81.19]];
const ticks2 = [[1.255,.94],[.71,5.49],[.49,7.29],[.82,13.67],[.162,21.87],[.6,25.5],[1.694,25.5],[.49,27.32],[.925,27.32],[.925,28.23],[.27,29.17],[.6,30.05],[1.8,30.05],[4.3,30.05],[1.255,30.99],[.82,32.78],[1.035,32.78],[1.255,33.72],[2.02,33.72],[.82,35.52],[1.364,35.52],
[.38,38.24],[1.145,38.24],[1.145,39.15],[5.39,41.87],[1.255,42.78],[1.694,42.78],[.6,43.71],[1.035,43.71],[.27,44.62],[2.237,44.62],[.925,45.53],[2.02,46.42],[.06,47.35],[.16,47.35],[.38,47.35],[.6,47.35],[.925,47.35],[2.896,47.35],[5.94,47.35],[.27,48.26],[1.584,48.26],[2.02,48.26],[.49,49.17],[1.694,49.17],[4.2,49.17],[1.584,50.05],[1.694,50.05],[3.65,50.05],[.38,50.99],[.925,50.99],[1.694,50.99],[4.2,50.99],[.38,51.9],[.71,51.9],[1.474,51.9],[.6,52.8],[2.02,52.8],[.38,53.71],[.6,53.71],[1.8,54.62],[.27,55.51],[1.584,55.51],[.6,56.44],[.925,56.44],[1.255,56.44],[.06,57.35],[.27,57.35],[3.115,58.26],[.06,59.17],[.27,59.17],[1.474,59.17],[.6,60.08],[1.035,60.08],[1.474,60.08],[3.115,60.08],[.49,60.99],[3.33,60.99],[.06,61.9,2],[.6,61.9],[.925,61.9],[1.913,61.9],[.49,62.8],[1.474,62.8],[.27,63.71],[.49,63.71],[1.035,63.71],[1.584,63.71],[.49,64.62],[.71,64.62],[1.255,64.62],[3.98,64.62],[.162,65.53],[5.94,65.53],[.162,66.44,2],[.82,66.44],[.162,67.35],[1.694,67.35],[.38,68.26],[2.567,68.26],[.925,69.19],[1.035,70.1],
[3.22,71],[.38,71.9],[1.8,71.9],[.71,72.81],[.06,73.73],[.27,73.73],[5.5,73.73],[.06,74.64],[.925,74.64],[.06,76.44],[.27,76.44],[.925,76.44],[2.896,76.44],[.71,77.37],[.925,77.37,2],[2.347,78.27],[1.364,79.19],[.925,80.08],[.71,81],[3.544,81],[1.145,84.64],[2.02,84.64],[1.035,85.54],[.82,86.48],[.162,89.19],[.6,91.02]];
const ticks3 = [[1.265,.86],[.716,5.45],[.497,7.25],[.826,13.64],[.606,25.5],[1.688,25.5],[.497,27.3],[.936,27.3],[.936,28.2],[.282,29.09],[.606,30],[1.8,30],[4.31,30],[1.265,30.9],[.826,32.75],[1.045,32.75],[1.265,33.68],[2.018,33.68],[.826,35.5],[1.364,35.5],[.392,38.2],[1.155,38.2],[1.155,39.07],[5.39,41.87],[1.265,42.8],[1.688,42.8],[.606,43.7],[1.045,43.7],[.282,44.67],[2.237,44.67],[.936,45.53],[2.018,46.4],
[.073,47.33],[.178,47.33],[.392,47.33],[.606,47.33],[.936,47.33],[2.89,47.33],[5.94,47.33],[.282,48.2],[1.579,48.2],[2.018,48.2],[.497,49.13],[1.688,49.13],[4.2,49.13],[1.579,50.05],[1.688,50.05],[3.654,50.05],[.392,50.99],[.936,50.99],[1.688,50.99],[4.2,50.99],[.392,51.9],[.716,51.9],[1.474,51.9],[.606,52.86],[2.018,52.86],[.606,53.7],[.392,54.65],[1.8,54.65],[.282,55.45],[1.579,55.45],[.178,56.45],[.606,56.45],[.936,56.45],[1.265,56.45],[.073,57.3],[.178,57.3],[.282,57.3],[3.11,58.25],[.073,59.1],[.282,59.1],[1.474,59.1],[.606,60.04],[1.045,60.04],[1.474,60.04],[3.11,60.04],[.497,60.98,2],[1.908,60.98],[3.325,60.98],[.073,61.9,2],[.606,61.9],[.936,61.9],[1.908,61.9],[.497,62.8],[1.474,62.8],[.282,63.7],[.497,63.7],[1.045,63.7],[1.579,63.7],[.073,64.58],[.497,64.58],[.716,64.58],[1.265,64.58],[3.98,64.58],[.178,65.5],[5.94,65.5],[.178,66.43,2],[.826,66.43],[.178,67.37],[1.688,67.37],[.392,68.3],[2.56,68.3],[.936,69.17],[1.045,70.1],[3.215,71.03],[.392,71.9],[1.8,71.9],[.716,72.8],[.073,73.76],[.282,73.76],[5.5,73.76],[.073,74.7],[.936,74.7],[.073,76.5],[.282,76.5],[.936,76.5],[2.89,76.5],[.716,77.4],[.936,77.4],[2.34,78.3],[1.364,79.2],[.936,80.1],[.716,81],[3.55,81],[1.155,84.7],[2.018,84.7],[1.045,85.5],[.826,86.5],[.178,89.2],[.606,91]];
const ticks4 = [[1.328,.83],[.873,4.64],[.727,5.41],[1.025,12.2],[.8,12.94],[.8,13.7],[.575,13.7],[1.4,18.25],[1.176,19.05],[4.03,19.05],[1.704,24.34],[.873,26.64],[.95,26.64],[.8,28.15],[1.85,28.15],[1.255,31.93],[3.356,34.97],[1.176,36.48],[1.777,37.25],[1.4,42.53],[2,44.07],[2.98,44.8],
[2.45,47.06],[3.654,47.06],[.575,48.58],[4.18,48.58],[.423,49.32],[1.328,50.87],[1.85,51.6],[7.55,54.65],[1.103,57.68],[3.356,57.68],[1.553,59.2],[3.957,60.71],[1.777,68.32],[2.9,68.32],[2.53,69.03],[4.78,69.8],[.125,70.58],[1.103,72.06],[.95,72.8],[3.204,75.87]];
const ticks5 = [[.7,5.92],[.538,6.72],[.863,12.78],[.81,13.64],[.538,14.5],[.863,19.63],[.02,22.23],[.596,25.63],[.538,26.56],[.91,27.43],[.648,30.02],[1.81,30.02],[4.32,30.02],[1.223,30.82],[.863,32.6],[1.02,32.6],[1.96,33.4],[1.07,35.08],[1.385,35.08],[1.176,38.54],[1.176,39.4],[.13,40.34],[.073,41.14],[1.275,42.87],[.178,43.73],[2.01,46.33],[.073,48.06],[1.275,48.06],[1.275,48.93],[1.59,48.93],[1.59,49.8],[3.64,49.8],[1.7,50.66],[1.75,50.66],[.335,51.5],[.387,51.5],[4.17,51.5],[.13,52.4],[.444,52.4],[.596,52.4],[2.07,53.2],[1.223,54.12],[.277,54.92],[1.81,54.92],[1.275,55.8],[1.59,55.8],[.225,56.65],[.91,56.65],[.81,57.5],[1.495,59.18],[.277,60.05],[1.02,60.05],[5.217,60.05],[3.07,60.98],[3.325,60.98],[.225,61.85],[1.96,61.85],[.444,62.7],[.96,63.57],[.538,64.44],[.02,65.24],[.7,65.24],[.13,66.17],[.81,66.17],[2.59,68.7],[1.02,69.57],[3.27,70.44],[2.854,72.16],[.073,73.8],[.073,74.76],[.96,74.76],[.073,76.5],[.387,79.9],[2.12,80.75],[3.54,81.6],[.13,82.5],[2.49,83.35],[1.02,85.1],[2.01,85.1],[.81,85.95],[.648,91.07]];

const heats = [heat1,heat2,heat3,heat4,heat5];
const tickSets = [ticks1,ticks2,ticks3,ticks4,ticks5];

// Layout
const L0=190, STEP=676.3, W=587.7, T=102.3, H=2550;
const FONT='"DejaVu Sans"', TICKFS=41.7, TITLEFS=54, LABELFS=52;
const MAJ=14.6, MIN=8.3, LW=3.3, MLW=2.5;

const rowAmp=(i,r)=>Math.pow(10,logTop[i]-r*logStep[i]);
const rectRender=(pal)=>(params,api)=>{
  const a=api.coord([api.value(0),api.value(2)]), b=api.coord([api.value(1),api.value(3)]);
  return {type:'rect',shape:{x:a[0],y:a[1],width:b[0]-a[0],height:b[1]-a[1]},style:{fill:pal[api.value(4)]}};
};

const grid=[],xAxis=[],yAxis=[],series=[],title=[];
const axisLine={show:true,onZero:false,lineStyle:{color:'#000',width:LW}};
panelTitles.forEach((t,i)=>{
  const left=L0+i*STEP;
  grid.push({left,top:T,width:W,height:H});
  title.push({text:t,left:left+W/2-6,top:T-75,textAlign:'center',textStyle:{fontFamily:FONT,fontSize:TITLEFS,fontWeight:'normal',color:'#000'}});
  ['bottom','top'].forEach(pos=>xAxis.push({
    type:'value',gridIndex:i,position:pos,min:xRange[0],max:xRange[1],interval:2,z:10,
    axisLine,splitLine:{show:false},
    axisTick:{show:true,length:MAJ,inside:false,lineStyle:{color:'#000',width:LW}},
    minorTick:{show:true,splitNumber:4,length:MIN,lineStyle:{color:'#000',width:MLW}},
    axisLabel:{show:pos==='bottom',margin:16,fontFamily:FONT,fontSize:TICKFS,color:'#000'}
  }));
  ['left','right'].forEach(pos=>{
    yAxis.push({
      type:'log',logBase:10,gridIndex:i,position:pos,min:yRange[0],max:yRange[1],z:10,
      axisLine,splitLine:{show:false},minorTick:{show:false},
      axisTick:{show:true,length:MAJ,customValues:yMajor,lineStyle:{color:'#000',width:LW}},
      axisLabel:{show:pos==='left'&&i===0,customValues:yMajor,margin:30,color:'#000',
        formatter:v=>'{b|10}{s|'+Math.round(Math.log10(v))+'}',
        rich:{b:{fontFamily:FONT,fontSize:TICKFS,color:'#000',padding:[14,0,0,0]},s:{fontFamily:FONT,fontSize:29,color:'#000',padding:[0,0,6,0]}}}
    });
    yAxis.push({
      type:'log',logBase:10,gridIndex:i,position:pos,min:yRange[0],max:yRange[1],z:10,
      axisLine:{show:false,onZero:false},splitLine:{show:false},minorTick:{show:false},
      axisTick:{show:true,length:MIN,customValues:yMinor,lineStyle:{color:'#000',width:MLW}},
      axisLabel:{show:false}
    });
  });
  const cells=[];
  heats[i].forEach(([r,s])=>s.split(' ').forEach(p=>{
    const [c,l]=p.split(':').map(Number);
    cells.push([freqStart+c*freqStep,freqStart+(c+1)*freqStep,rowAmp(i,r),rowAmp(i,r+1),l]);
  }));
  series.push({type:'custom',coordinateSystem:'cartesian2d',xAxisIndex:2*i,yAxisIndex:4*i,clip:true,silent:true,z:2,
    encode:{x:[0,1],y:[2,3]},data:cells,renderItem:rectRender(blues[i])});
  const tks=tickSets[i].map(([f,r,d])=>[f-tickW[i]/2,f+tickW[i]/2,rowAmp(i,r-tickH[i]/2),rowAmp(i,r+tickH[i]/2),d===2?1:0]);
  series.push({type:'custom',coordinateSystem:'cartesian2d',xAxisIndex:2*i,yAxisIndex:4*i,clip:true,silent:true,z:3,
    encode:{x:[0,1],y:[2,3]},data:tks,renderItem:rectRender(reds[i])});
});

const chart=echarts.init(document.getElementById('c'),null,{renderer:'canvas',width:3527,height:2920});
chart.setOption({
  animation:false,backgroundColor:'#fff',title,grid,xAxis,yAxis,series,
  graphic:[
    {type:'text',x:1865,y:2858,style:{text:'{a|'+xTitleParts[0]+'}{s|'+xTitleParts[1]+'}{a|'+xTitleParts[2]+'}',fill:'#000',textAlign:'center',textVerticalAlign:'middle',
      rich:{a:{fontFamily:FONT,fontSize:LABELFS,fill:'#000',padding:[14,0,0,0]},s:{fontFamily:FONT,fontSize:36,fill:'#000',padding:[0,0,8,0]}}}},
    {type:'text',x:54,y:1383,rotation:Math.PI/2,style:{text:yTitle,fontFamily:FONT,fontSize:LABELFS,fill:'#000',textAlign:'center',textVerticalAlign:'middle'}}
  ]
});
</script></body></html>
